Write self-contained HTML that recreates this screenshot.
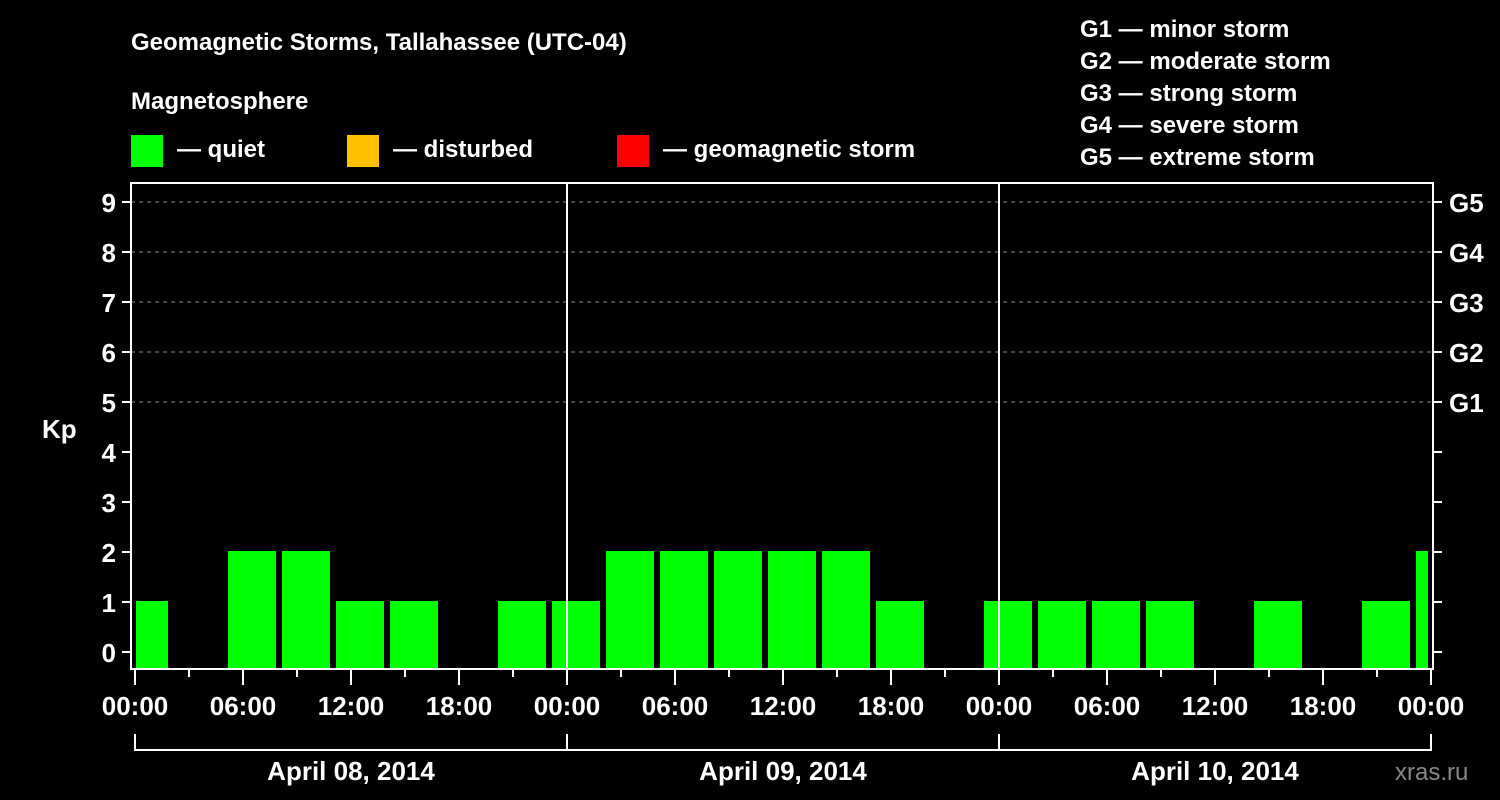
<!DOCTYPE html>
<html><head><meta charset="utf-8">
<style>
html,body{margin:0;padding:0;background:#000;}
svg{display:block;font-family:"Liberation Sans",Arial,sans-serif;font-weight:bold;}
</style></head>
<body>
<svg id="chart" width="1500" height="800" viewBox="0 0 1500 800" xmlns="http://www.w3.org/2000/svg">
<rect width="1500" height="800" fill="#000"/>
<text x="131" y="50" fill="#fff" font-size="24">Geomagnetic Storms, Tallahassee (UTC-04)</text>
<text x="131" y="109" fill="#fff" font-size="24">Magnetosphere</text>
<g><rect x="131" y="135" width="32" height="32" fill="#00ff00"/><text x="177" y="157" fill="#fff" font-size="24">— quiet</text></g>
<g><rect x="347" y="135" width="32" height="32" fill="#ffc000"/><text x="393" y="157" fill="#fff" font-size="24">— disturbed</text></g>
<g><rect x="617" y="135" width="32" height="32" fill="#ff0000"/><text x="663" y="157" fill="#fff" font-size="24">— geomagnetic storm</text></g>
<g fill="#fff" font-size="24">
<text x="1080" y="37">G1 — minor storm</text>
<text x="1080" y="69">G2 — moderate storm</text>
<text x="1080" y="101">G3 — strong storm</text>
<text x="1080" y="133">G4 — severe storm</text>
<text x="1080" y="165">G5 — extreme storm</text>
</g>
<g id="grid"></g>
<g id="bars"></g>
<g id="axes"></g>
<text x="42" y="438" fill="#fff" font-size="26">Kp</text>
<text x="1395" y="780" fill="#888" font-size="24" font-weight="normal">xras.ru</text>
</svg>
<script>
// values for 3-hour intervals, starting at local hour -1 (UTC 03:00) of April 08
const kpValues = [1,0,2,2,1,1,0,1,1,2,2,2,2,2,1,0,1,1,1,1,0,1,0,1,2];
const startHour = -1;
const yTicks = [0,1,2,3,4,5,6,7,8,9];
const gLabels = ["G1","G2","G3","G4","G5"];
const xTickLabels = ["00:00","06:00","12:00","18:00","00:00","06:00","12:00","18:00","00:00","06:00","12:00","18:00","00:00"];
const dayLabels = ["April 08, 2014","April 09, 2014","April 10, 2014"];

const NS="http://www.w3.org/2000/svg";
const L=131,R=1433,T=183,B=669;
const X0=135, PXH=18;
const x=h=>X0+h*PXH;
const y=k=>652-50*k;
function mk(tag,attrs,parent,text){const e=document.createElementNS(NS,tag);for(const k in attrs)e.setAttribute(k,attrs[k]);if(text!==undefined)e.textContent=text;parent.appendChild(e);return e;}
const grid=document.getElementById('grid'),bars=document.getElementById('bars'),axes=document.getElementById('axes');

// grid lines for G levels
for(let i=0;i<gLabels.length;i++){
  const k=5+i;
  const gl=mk('line',{x1:L,x2:R,y1:y(k),y2:y(k),stroke:'#888','stroke-width':1,'stroke-dasharray':'4,4'},grid);
  
  
  const t=mk('text',{x:1449,y:y(k)+10,fill:'#fff','font-size':26},axes,gLabels[i]);
  
  
}
// bars
kpValues.forEach((v,i)=>{
  if(v<=0)return;
  const h0=startHour+3*i;
  let x1=Math.max(x(h0)+3,L+5), x2=Math.min(x(h0+3)-3,R-5);
  const c=v>=5?'#ff0000':(v>=4?'#ffc000':'#00ff00');
  const b=mk('rect',{x:x1,y:y(v)-1,width:x2-x1,height:B-(y(v)-1),fill:c},bars);
  
  
});
// frame and day separators
const fr=mk('rect',{x:L,y:T,width:R-L,height:B-T,fill:'none',stroke:'#fff','stroke-width':2},axes);


for(let d=1;d<3;d++){
  const s=mk('line',{x1:x(24*d),x2:x(24*d),y1:T,y2:B,stroke:'#fff','stroke-width':2},axes);
  
  
}
// y ticks
yTicks.forEach(k=>{
  const t1=mk('line',{x1:122,x2:L,y1:y(k),y2:y(k),stroke:'#fff','stroke-width':2},axes);
  
  
  const t2=mk('line',{x1:R,x2:1442,y1:y(k),y2:y(k),stroke:'#fff','stroke-width':2},axes);
  
  
  const lb=mk('text',{x:116,y:y(k)+10,fill:'#fff','font-size':26,'text-anchor':'end'},axes,String(k));
  
  
});
// x ticks
for(let h=0;h<=72;h+=3){
  const major=h%6===0;
  const t=mk('line',{x1:x(h),x2:x(h),y1:B,y2:major?685:677,stroke:'#fff','stroke-width':2},axes);
  
  
}
xTickLabels.forEach((s,i)=>{
  const t=mk('text',{x:x(6*i),y:715,fill:'#fff','font-size':26,'text-anchor':'middle'},axes,s);
  
  
});
// day bracket
const bl=mk('line',{x1:x(0),x2:x(72),y1:750,y2:750,stroke:'#fff','stroke-width':2},axes);


for(let d=0;d<=3;d++){
  const v=mk('line',{x1:x(24*d),x2:x(24*d),y1:734,y2:751,stroke:'#fff','stroke-width':2},axes);
  
  
}
dayLabels.forEach((s,i)=>{
  const t=mk('text',{x:x(24*i+12),y:780,fill:'#fff','font-size':26,'text-anchor':'middle'},axes,s);
  
  
});
</script>
</body></html>
